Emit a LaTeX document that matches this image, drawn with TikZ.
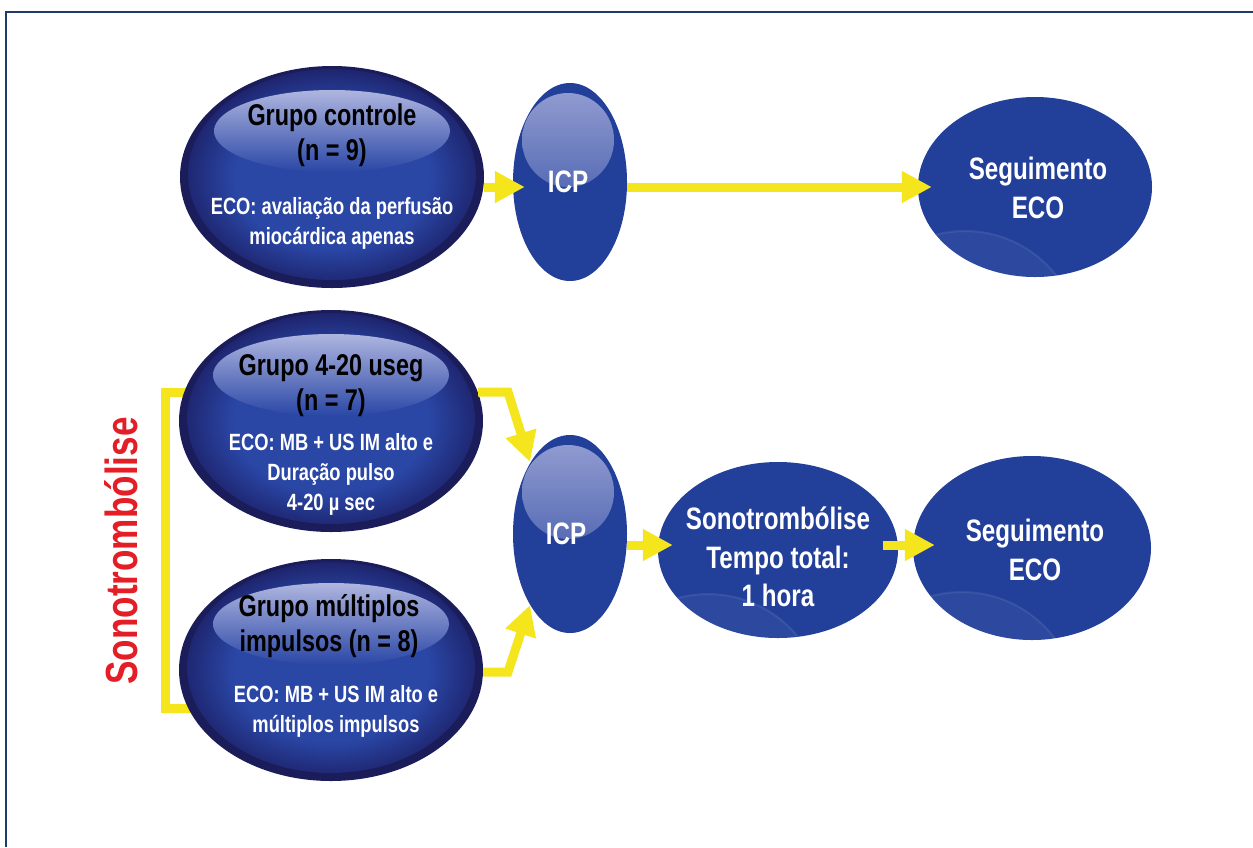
\documentclass[tikz,border=0pt]{standalone}
\usepackage{fontspec}
\setmainfont{Liberation Sans}[FakeStretch=0.78]
\usetikzlibrary{arrows.meta,shapes.geometric}
\definecolor{mainblue}{HTML}{22409A}
\definecolor{bodyin}{HTML}{2A47A6}
\definecolor{bodyout}{HTML}{1D226A}
\definecolor{rim}{HTML}{1B1C5A}
\definecolor{hitop}{HTML}{AEB5DF}
\definecolor{icptop}{HTML}{959FD3}
\definecolor{ycol}{HTML}{F5E51C}
\definecolor{redtxt}{HTML}{E41E26}
\definecolor{framecol}{HTML}{203A6A}
\pgfdeclarelayer{background}
\pgfsetlayers{background,main}
\pgfdeclareradialshading{bodyshade}{\pgfpoint{0bp}{0bp}}{color(0bp)=(bodyin); color(16bp)=(bodyin); color(25bp)=(bodyout); color(50bp)=(bodyout)}
\begin{document}
\begin{tikzpicture}[x=1pt,y=-1pt,
  grp/.style={ellipse, minimum width=304pt, minimum height=222pt, inner sep=0pt, fill=rim,
    path picture={
      \shade[shading=bodyshade] ([yshift=2.5pt]path picture bounding box.center) ellipse [x radius=144pt, y radius=105.5pt];
      \shade[top color=hitop, bottom color=bodyin] ([yshift=46pt]path picture bounding box.center) ellipse [x radius=118pt, y radius=41pt];
    }},
  icp/.style={ellipse, minimum width=114pt, minimum height=198pt, inner sep=0pt, fill=mainblue,
    path picture={
      \shade[top color=icptop, bottom color=mainblue] ([shift={(-2pt,42pt)}]path picture bounding box.center) ellipse [x radius=46pt, y radius=47pt];
    }},
  flat/.style={ellipse, inner sep=0pt, fill=mainblue,
    path picture={
      \fill[white, opacity=0.05] ([shift={(-70pt,-160pt)}]path picture bounding box.center) circle (116pt);
      \draw[white, opacity=0.08, line width=2pt] ([shift={(-70pt,-160pt)}]path picture bounding box.center) circle (116pt);
    }},
  bigtxt/.style={font=\bfseries\fontsize{30}{35}\selectfont, align=center, text=black, inner sep=0pt},
  smalltxt/.style={font=\bfseries\fontsize{23.5}{30}\selectfont, align=center, text=white, inner sep=0pt},
  whtxt/.style={font=\bfseries\fontsize{31}{38.5}\selectfont, align=center, text=white, inner sep=0pt},
  yarrow/.style={draw=ycol, line width=9pt, line join=miter, -{Triangle[length=30pt,width=30pt]}},
  ybar/.style={draw=ycol, line width=9pt, line join=miter}
]
\useasboundingbox (0,0) rectangle (1253,847);
\begin{pgfonlayer}{background}
\fill[white] (0,0) rectangle (1253,847);
\end{pgfonlayer}
\draw[framecol, line width=1.6pt] (6,847) -- (6,12) -- (1253,12);

% nodes
\node[grp] (g1) at (332,177) {};
\node[grp] (g2) at (331,421) {};
\node[grp] (g3) at (331,670) {};
\node[icp] (icp1) at (570,182) {};
\node[icp] (icp2) at (570,534) {};
\node[flat, minimum width=234pt, minimum height=180pt] (seg1) at (1035,187) {};
\node[flat, minimum width=240pt, minimum height=176pt] (sono) at (778,550) {};
\node[flat, minimum width=238pt, minimum height=184pt] (seg2) at (1032,548) {};

% texts
\node[bigtxt] (g1a) at (332,135) {Grupo controle\\(n = 9)};
\node[smalltxt] (g1b) at (332,223) {ECO: avaliação da perfusão\\miocárdica apenas};
\node[bigtxt] (g2a) at (331,386) {Grupo 4-20 useg\\(n = 7)};
\node[smalltxt] (g2b) at (331,474) {ECO: MB + US IM alto e\\Duração pulso\\4-20 µ sec};
\node[bigtxt] (g3a) at (329,626) {Grupo múltiplos\\impulsos (n = 8)};
\node[smalltxt] (g3b) at (336,711) {ECO: MB + US IM alto e\\múltiplos impulsos};
\node[whtxt] (icp1t) at (568,182) {ICP};
\node[whtxt] (icp2t) at (566,534) {ICP};
\node[whtxt] (seg1t) at (1038,188) {Seguimento\\ECO};
\node[whtxt] (seg2t) at (1035,550) {Seguimento\\ECO};
\node[whtxt] (sonot) at (778,557) {Sonotrombólise\\Tempo total:\\1 hora};
\node[font=\bfseries\fontsize{45}{50}\selectfont, text=redtxt, rotate=90, inner sep=0pt] (lbl) at (121,551) {Sonotrombólise};

% bracket (behind the ellipses)
\coordinate (bx) at (165,0);
\coordinate (b1) at ([shift={(-140,-29)}]g2.center);
\coordinate (b2) at ([shift={(-135,38)}]g3.center);
\begin{pgfonlayer}{background}
\draw[ybar] (b1) -- (b1 -| bx) -- (b2 -| bx) -- (b2);
\end{pgfonlayer}

% arrows
\draw[yarrow] ([yshift=-10pt]g1.east) -- ([shift={(12pt,-5pt)}]icp1.west);
\draw[yarrow] ([yshift=-5pt]icp1.east) -- ([xshift=14pt]seg1.west);
\coordinate (k1) at (508,392);
\coordinate (k2) at (508,672);
\draw[yarrow] ([shift={(147,-29)}]g2.center) -- (k1) -- ([shift={(-40,-72)}]icp2.center);
\draw[yarrow] ([shift={(152,2)}]g3.center) -- (k2) -- ([shift={(-40,71)}]icp2.center);
\draw[yarrow] ([yshift=-11pt]icp2.east) -- ([shift={(15pt,5pt)}]sono.west);
\draw[yarrow] ([shift={(-15pt,5pt)}]sono.east) -- ([shift={(22pt,3pt)}]seg2.west);
\end{tikzpicture}
\end{document}
